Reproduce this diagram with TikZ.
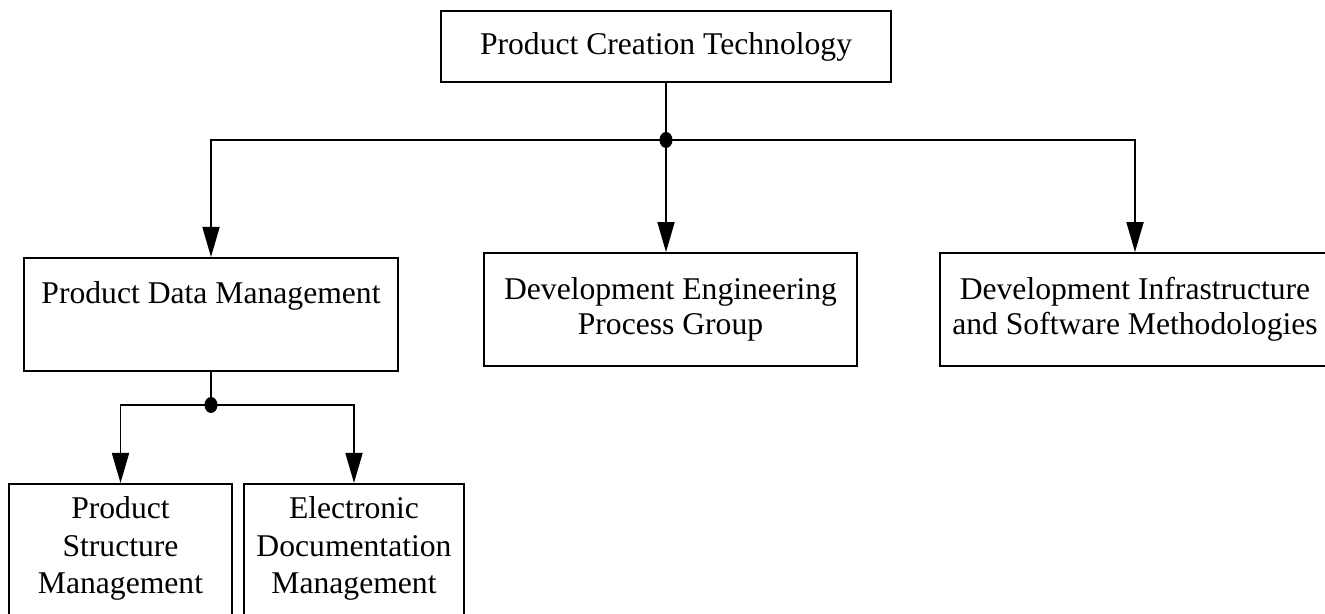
\documentclass[tikz,border=0pt]{standalone}
\usepackage{fontspec}
\setmainfont{Liberation Serif}
\usetikzlibrary{arrows.meta}

\begin{document}
\begin{tikzpicture}[auto,>={Triangle[width=.34cm,length=.6cm]},line width=1pt]
\tikzstyle{unit}=[rectangle,draw,align=center,font=\fontsize{18}{20}\selectfont]
\tikzstyle{leaf}=[unit,anchor=north,inner ysep=.26cm,minimum width=4.46cm,text depth=.47cm,font=\fontsize{18}{21.3}\selectfont]
  \useasboundingbox(0,0)rectangle(26.5,12.28);
  \clip(0,0)rectangle(26.5,12.28);
  \node(pct)at(13.32,11.35)[unit,minimum width=9cm,minimum height=1.42cm]{Product Creation Technology};
  \node(pdm)at(4.22,7.14)[unit,anchor=north,minimum width=7.48cm,inner ysep=.48cm,text depth=.87cm]{Product Data Management};
  \node(depg)at(13.41,6.09)[unit,minimum width=7.46cm,minimum height=2.26cm]{Development Engineering\\Process Group};
  \node(dism)at(22.7,6.09)[unit,minimum width=7.8cm,minimum height=2.26cm]{Development Infrastructure\\and Software Methodologies};
  \node(psm)at(2.41,2.62)[leaf]{Product\\Structure\\Management};
  \node(edm)at(7.08,2.62)[leaf,minimum width=4.4cm]{Electronic\\Documentation\\Management};
  \coordinate(j1)at(13.32,9.48);
  \coordinate(j2)at(4.22,4.18);
  \draw(pct)--(j1);
  \draw[->](j1)-|(pdm.north);
  \draw[->](j1)--(j1|-depg.north);
  \draw[->](j1)-|(dism.north);
  \draw(pdm)--(j2);
  \draw[->](j2)-|(psm.north);
  \draw[->](j2)-|(edm.north);
  \fill(j1)ellipse(.13 and .16);
  \fill(j2)ellipse(.13 and .16);
\end{tikzpicture}
\end{document}
